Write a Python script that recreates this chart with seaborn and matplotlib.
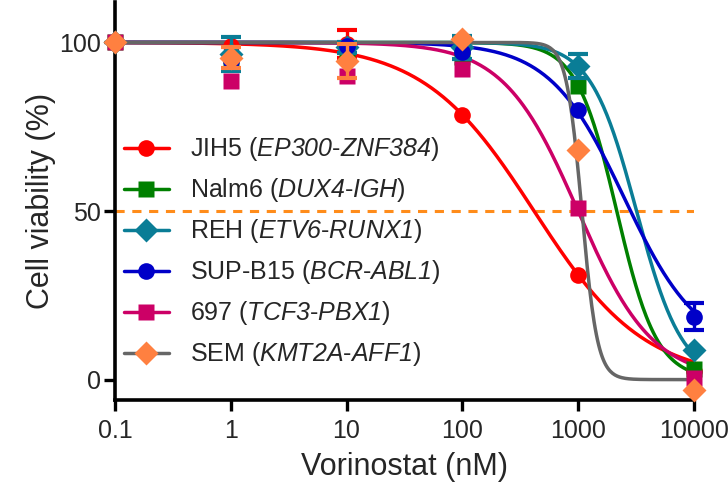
import numpy as np
import pandas as pd
import matplotlib
matplotlib.use("Agg")
import matplotlib.pyplot as plt
from matplotlib.lines import Line2D
import seaborn as sns

# ---- data ----
conc = [0.1, 1, 10, 100, 1000, 10000]
x_ticks = [0.1, 1, 10, 100, 1000, 10000]
x_ticklabels = ["0.1", "1", "10", "100", "1000", "10000"]
y_ticks = [0, 50, 100]

lines_names = ["JIH5", "Nalm6", "REH", "SUP-B15", "697", "SEM"]
genes = [("EP300", "ZNF384"), ("DUX4", "IGH"), ("ETV6", "RUNX1"),
         ("BCR", "ABL1"), ("TCF3", "PBX1"), ("KMT2A", "AFF1")]

jih5 = [100, 99.0, 99.5, 78.6, 31.0, 2.5]
nalm6 = [100, 93.5, 96.0, 95.8, 87.0, 3.0]
reh = [100, 96.5, 98.5, 98.5, 93.0, 8.9]
supb15 = [100, 94.5, 98.8, 97.3, 80.0, 18.7]
c697 = [100, 88.7, 90.0, 92.0, 51.0, 0.5]
sem = [100, 95.5, 94.4, 101.0, 68.2, -3.0]

# standard errors (0 = hidden behind the symbol)
jih5_err = [0, 0, 4.2, 0, 0, 0]
nalm6_err = [0, 0, 0, 0, 0, 0]
reh_err = [0, 5.0, 1.5, 3.5, 3.5, 0]
supb15_err = [0, 0, 0, 0, 0, 4.0]
c697_err = [0, 0, 0, 0, 0, 0]
sem_err = [0, 3.0, 5.0, 0, 0, 0]

# four-parameter logistic fits
fit_top = [100, 100, 100, 100, 100, 100]
fit_bottom = [0, 0, 0, 8, 0, 0]
fit_ic50 = [417, 2160, 3200, 2500, 1000, 1080]
fit_hill = [0.91, 2.5, 2.2, 1.35, 1.35, 6.5]

colors = ["#FF0000", "#008000", "#0A7D96", "#0000C8", "#CC0066", "#FF8040"]
curve_colors = ["#FF0000", "#008000", "#0A7D96", "#0000C8", "#CC0066", "#666666"]
markers = ["o", "s", "D", "o", "s", "D"]
msizes = [12, 11.5, 12, 12, 11.5, 12.5]

values = [jih5, nalm6, reh, supb15, c697, sem]
errors = [jih5_err, nalm6_err, reh_err, supb15_err, c697_err, sem_err]

# ---- style ----
sns.set_style("ticks")
plt.rcParams["font.family"] = ["Liberation Sans", "DejaVu Sans"]
plt.rcParams["mathtext.fontset"] = "custom"
plt.rcParams["mathtext.rm"] = "Liberation Sans"
plt.rcParams["mathtext.it"] = "Liberation Sans:italic"
plt.rcParams["mathtext.sf"] = "Liberation Sans:italic"

fig = plt.figure(figsize=(7.28, 4.93), dpi=100)
ax = fig.add_axes([0.158, 0.189, 0.795, 0.807])

# fitted curves via seaborn
xs = np.logspace(np.log10(conc[0]), np.log10(conc[-1]), 500)
rows = []
for name, t, b, ic, h in zip(lines_names, fit_top, fit_bottom, fit_ic50, fit_hill):
    yv = b + (t - b) / (1 + (xs / ic) ** h)
    rows.append(pd.DataFrame({"conc": xs, "viab": yv, "line": name}))
curves = pd.concat(rows, ignore_index=True)
sns.lineplot(data=curves, x="conc", y="viab", hue="line",
             palette=dict(zip(lines_names, curve_colors)),
             hue_order=lines_names, linewidth=2.5, legend=False, ax=ax,
             clip_on=False, zorder=3)

# data points with error bars
for i, name in enumerate(lines_names):
    xv = np.array(conc)
    yv = np.array(values[i])
    ev = np.array(errors[i])
    m = ev > 0
    if m.any():
        ax.errorbar(xv[m], yv[m], yerr=ev[m], fmt="none", ecolor=colors[i],
                    elinewidth=2.4, capsize=7, capthick=3, clip_on=False,
                    zorder=4 + i)
    ax.plot(xv, yv, ls="none", marker=markers[i], color=colors[i],
            ms=msizes[i], mec="none", clip_on=False, zorder=4 + i)

# 50% reference line
ax.axhline(50, color="#FF8C1A", lw=2.2, ls=(0, (3, 2.5)), zorder=2)

ax.set_xscale("log")
ax.set_xlim(0.1, 10000)
ax.set_ylim(-6, 112)
ax.set_xticks(x_ticks)
ax.set_xticklabels(x_ticklabels)
ax.minorticks_off()
ax.set_yticks(y_ticks)
ax.tick_params(axis="both", length=8, width=2.4, labelsize=18,
               color="black")
ax.tick_params(axis="y", pad=2)
ax.tick_params(axis="x", pad=6)
for s in ["top", "right"]:
    ax.spines[s].set_visible(False)
for s in ["left", "bottom"]:
    ax.spines[s].set_linewidth(2.6)
    ax.spines[s].set_color("black")

ax.set_xlabel("Vorinostat (nM)", fontsize=22, labelpad=6)
ax.set_ylabel("Cell viability (%)", fontsize=22, labelpad=2)

# legend
handles = []
labels = []
for i, name in enumerate(lines_names):
    handles.append(Line2D([], [], color=curve_colors[i], lw=2.5,
                          marker=markers[i], ms=msizes[i],
                          markerfacecolor=colors[i], markeredgecolor="none"))
    g1, g2 = genes[i]
    labels.append(f"{name} ($\\mathsf{{{g1}}}$-$\\mathsf{{{g2}}}$)")
leg = ax.legend(handles, labels, loc="upper left", frameon=False,
                fontsize=18, handlelength=1.8, handletextpad=0.85,
                labelspacing=0.52, borderpad=0, borderaxespad=0,
                bbox_to_anchor=(0.0155, 0.665))

fig.savefig("out.png", dpi=100)
